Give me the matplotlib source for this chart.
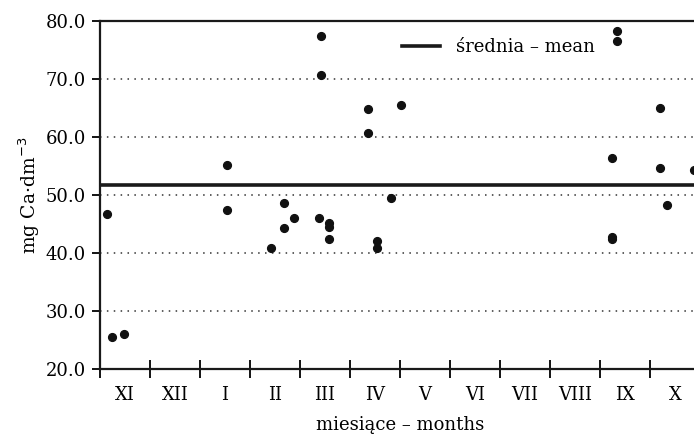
import matplotlib
matplotlib.use("Agg")
import matplotlib.pyplot as plt

plt.rcParams['font.family'] = ['DejaVu Serif']

# sampling position in months counted from the start of November
months_pos = [0.14, 0.24, 0.48, 2.54, 2.54, 3.42, 3.68, 3.68, 3.88,
              4.42, 4.42, 4.38, 4.58, 4.58, 4.58,
              5.36, 5.36, 6.02, 5.82, 5.54, 5.54,
              10.34, 10.34, 11.2, 10.24, 11.2, 11.88, 11.34, 10.24, 10.24]
ca_values = [46.8, 25.5, 26.1, 55.2, 47.4, 40.8, 48.6, 44.3, 46.0,
             77.4, 70.7, 46.0, 45.1, 44.5, 42.5,
             64.8, 60.7, 65.6, 49.4, 42.0, 40.8,
             78.3, 76.5, 65.0, 56.3, 54.6, 54.3, 48.3, 42.8, 42.5]
mean_value = 51.7

month_labels = ['XI', 'XII', 'I', 'II', 'III', 'IV', 'V', 'VI',
                'VII', 'VIII', 'IX', 'X']
y_ticks = [20, 30, 40, 50, 60, 70, 80]

fig = plt.figure(figsize=(6.94, 4.34), dpi=100)
ax = fig.add_axes([100 / 694, 65 / 434, 600 / 694, 348 / 434])

for y in y_ticks[1:-1]:
    ax.axhline(y, color='#333333', lw=1.1, ls=(0, (1, 3.5)), zorder=1)

ax.axhline(mean_value, color='#1a1a1a', lw=2.6, zorder=2,
           label='średnia – mean')
ax.plot(months_pos, ca_values, 'o', color='#111111', ms=5.6, zorder=3)

ax.set_xlim(0, 12)
ax.set_ylim(20, 80)

ax.set_yticks(y_ticks)
ax.set_yticklabels([f'{v:.1f}' for v in y_ticks])
ax.tick_params(axis='y', direction='out', length=6, width=1.3,
               pad=4, labelsize=13)

ax.set_xticks(range(0, 13))
ax.set_xticklabels([])
ax.set_xticks([i + 0.5 for i in range(12)], minor=True)
ax.set_xticklabels(month_labels, minor=True)
ax.tick_params(axis='x', which='major', direction='inout', length=13,
               width=1.3)
ax.tick_params(axis='x', which='minor', length=0, pad=12, labelsize=13)

for side in ['left', 'top', 'bottom', 'right']:
    ax.spines[side].set_linewidth(1.6)
    ax.spines[side].set_color('#1a1a1a')

ax.set_xlabel('miesiące – months', fontsize=13, labelpad=9)
ax.set_ylabel('mg Ca·dm$^{-3}$', fontsize=13.5, labelpad=3)

ax.legend(loc='center left', bbox_to_anchor=(0.503, 0.925), frameon=False,
          fontsize=13, handlelength=2.1, handletextpad=0.9, borderpad=0,
          borderaxespad=0)

fig.savefig('out.png', dpi=100)
